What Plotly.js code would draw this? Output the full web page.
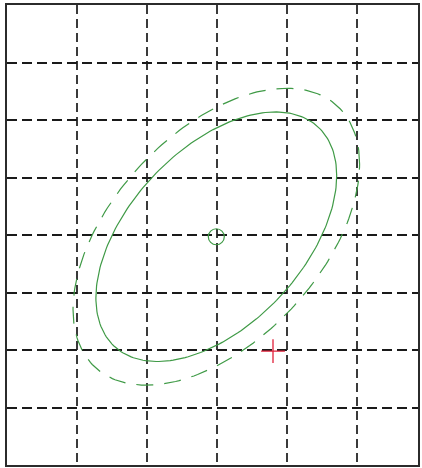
<!DOCTYPE html>
<html>
<head>
<meta charset="utf-8">
<script src="https://cdn.plot.ly/plotly-3.0.1.min.js"></script>
<style>html,body{margin:0;padding:0;background:#fff;}#chart{width:422px;height:468px;}</style>
</head>
<body>
<div id="chart"></div>
<script>
// Values
const gridX = [1, 2, 3, 4, 5];
const gridY = [1, 2, 3, 4, 5, 6, 7];
const center = [2.99, 3.97];
const spreadX = 1.72;      // half-width of inner ellipse
const spreadY = 2.17;      // half-height of inner ellipse
const corr = 0.49;         // tilt (correlation)
const levels = [1.0, 1.19]; // inner (solid), outer (dashed)
const testPoint = [3.8, 1.98];

function ellipse(level) {
  const d = Math.acos(corr);
  const xs = [], ys = [];
  for (let i = 0; i <= 240; i++) {
    const t = 2 * Math.PI * i / 240;
    xs.push(center[0] + level * spreadX * Math.cos(t));
    ys.push(center[1] + level * spreadY * Math.cos(t - d));
  }
  return {x: xs, y: ys};
}
const inner = ellipse(levels[0]);
const outer = ellipse(levels[1]);

const green = '#3f9a46';
const traces = [
  {x: inner.x, y: inner.y, mode: 'lines', line: {color: green, width: 1.2}, hoverinfo: 'skip'},
  {x: outer.x, y: outer.y, mode: 'lines', line: {color: green, width: 1.2, dash: '17px,11px'}, hoverinfo: 'skip'},
  {x: [center[0]], y: [center[1]], mode: 'markers', marker: {symbol: 'circle-open', size: 16, color: green, line: {width: 1.2, color: green}}},
  {x: [testPoint[0]], y: [testPoint[1]], mode: 'markers', marker: {symbol: 'cross-thin-open', size: 17, color: '#e0203a', line: {width: 1.3, color: '#e0203a'}}}
];

const axisCommon = {
  showgrid: true, zeroline: false, showticklabels: false, ticks: '',
  showline: true, mirror: true, linecolor: '#2b2b2b', linewidth: 2,
  fixedrange: true
};
const layout = {
  width: 422, height: 468,
  margin: {l: 7, r: 4, t: 5, b: 3},
  paper_bgcolor: '#fff', plot_bgcolor: '#fff',
  showlegend: false,
  xaxis: Object.assign({}, axisCommon, {range: [0, 411 / 70], tickvals: gridX,
    gridcolor: '#3a3a3a', gridwidth: 1.6, griddash: '9px,5px'}),
  yaxis: Object.assign({}, axisCommon, {range: [0, 8], tickvals: gridY,
    gridcolor: '#1a1a1a', gridwidth: 2, griddash: '10px,5px'})
};
Plotly.newPlot('chart', traces, layout, {staticPlot: true, displayModeBar: false});
</script>
</body>
</html>
